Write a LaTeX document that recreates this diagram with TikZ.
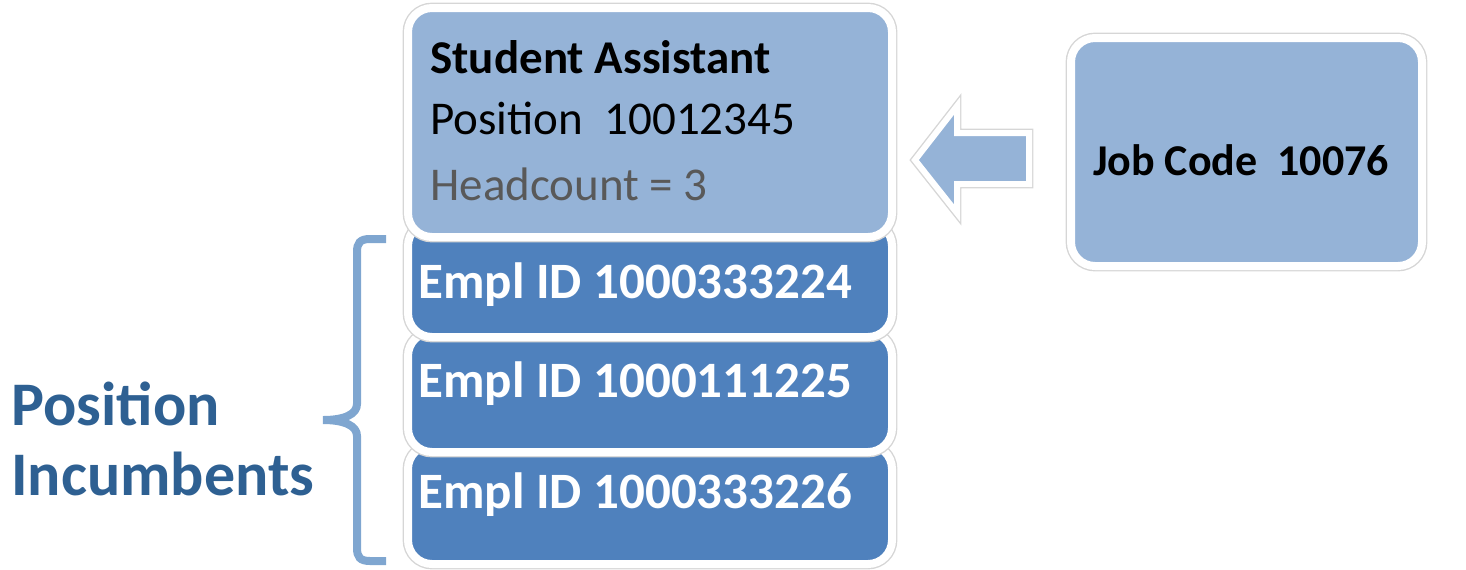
\documentclass[tikz,border=0pt]{standalone}
\usepackage{fontspec}
\setmainfont{Carlito}
\usetikzlibrary{shadows}
\definecolor{lightblue}{HTML}{95B3D7}
\definecolor{darkblue}{HTML}{4F81BD}
\definecolor{bracecol}{HTML}{7FA6D0}
\definecolor{labelcol}{HTML}{2E6092}
\definecolor{graytext}{HTML}{595959}
\begin{document}
\begin{tikzpicture}[x=0.5pt,y=-0.5pt,
  card/.style={rounded corners=12pt, draw=white, line width=4pt,
    preaction={draw=black!16, line width=5.4pt},
    drop shadow={opacity=0.2, shadow xshift=0pt, shadow yshift=-1.5pt}},
  empltext/.style={anchor=base west, inner sep=0pt, text=white, font=\fontsize{25.5}{30}\selectfont\bfseries},
  toptext/.style={anchor=base west, inner sep=0pt, font=\fontsize{23.5}{28}\selectfont}
]
\useasboundingbox (0,0) rectangle (1466,569);
% employee stack (drawn bottom first)
\path[card, fill=darkblue] (408,445) rectangle (892,564);
\path[card, fill=darkblue] (408,332) rectangle (892,452);
\path[card, fill=darkblue] (408,222) rectangle (892,337);
\path[card, fill=lightblue] (408,8) rectangle (892,237);
\node[toptext, font=\fontsize{23.5}{28}\selectfont\bfseries] (title) at (430,73) {Student Assistant};
\node[toptext] (pos) at (430,134) {Position\ \ 10012345};
\node[toptext, text=graytext] (head) at (430,200) {Headcount = 3};
\node[empltext] (e1) at (418,298) {Empl ID 1000333224};
\node[empltext] (e2) at (418,397) {Empl ID 1000111225};
\node[empltext] (e3) at (418,508) {Empl ID 1000333226};
% job code
\path[card, fill=lightblue] (1071,38) rectangle (1422,266);
\node[font=\fontsize{22}{26}\selectfont\bfseries, inner sep=0pt] (job) at (1241,160) {Job Code\ \ 10076};
% block arrow
\path[fill=lightblue, draw=white, line width=3pt, line join=miter,
  preaction={draw=black!16, line width=4.4pt, line join=miter},
  drop shadow={opacity=0.2, shadow xshift=0pt, shadow yshift=-1.5pt}]
  (915,160) -- (957,106) -- (957,133) -- (1029,133) -- (1029,184) -- (957,184) -- (957,213) -- cycle;
% brace
\draw[bracecol, line width=4pt]
  (386,239) -- (370,239) .. controls (360,239) and (357,243) .. (357,252)
  -- (357,404) .. controls (357,414) and (345,420) .. (323,420)
  .. controls (345,420) and (357,426) .. (357,436)
  -- (357,548) .. controls (357,557) and (360,561) .. (370,561) -- (386,561);
\node[anchor=base west, inner sep=0pt, text=labelcol,
  font=\fontsize{31}{35}\selectfont\bfseries] (lab1) at (11,425) {Position};
\node[anchor=base west, inner sep=0pt, text=labelcol,
  font=\fontsize{31}{35}\selectfont\bfseries] (lab2) at (11,495) {Incumbents};
\end{tikzpicture}
\end{document}
